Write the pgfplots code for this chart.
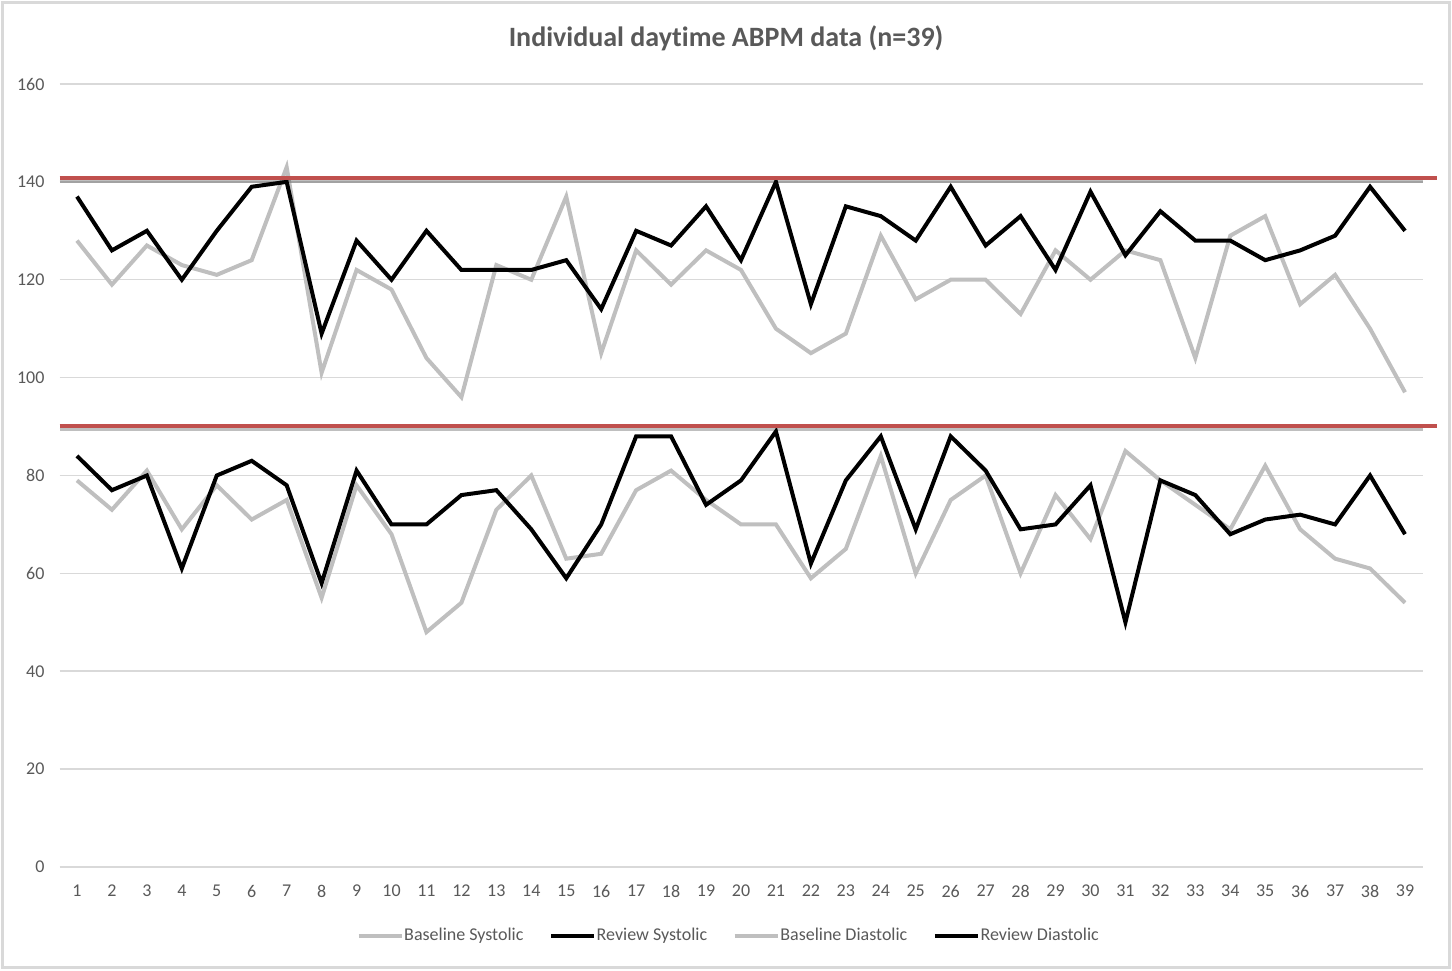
\documentclass[border=0pt]{standalone}
\usepackage{pgfplots}
\pgfplotsset{compat=1.18}
\usepackage{pgfplotstable}
\usepackage{fontspec}
\setmainfont{Carlito}[Ligatures={NoCommon}]
\definecolor{txt}{HTML}{595959}
\definecolor{gridc}{HTML}{D9D9D9}
\definecolor{lgray}{HTML}{BFBFBF}
\definecolor{redl}{HTML}{C0504D}

\pgfplotstableread{
i bs rs bd rd
1 128 137 79 84
2 119 126 73 77
3 127 130 81 80
4 123 120 69 61
5 121 130 78 80
6 124 139 71 83
7 143 140 75 78
8 101 109 55 58
9 122 128 78 81
10 118 120 68 70
11 104 130 48 70
12 96 122 54 76
13 123 122 73 77
14 120 122 80 69
15 137 124 63 59
16 105 114 64 70
17 126 130 77 88
18 119 127 81 88
19 126 135 75 74
20 122 124 70 79
21 110 140 70 89
22 105 115 59 62
23 109 135 65 79
24 129 133 84 88
25 116 128 60 69
26 120 139 75 88
27 120 127 80 81
28 113 133 60 69
29 126 122 76 70
30 120 138 67 78
31 126 125 85 50
32 124 134 79 79
33 104 128 74 76
34 129 128 69 68
35 133 124 82 71
36 115 126 69 72
37 121 129 63 70
38 110 139 61 80
39 97 130 54 68
}\datatable

\begin{document}
\begin{tikzpicture}[x=1pt,y=1pt]
\path (0,0) rectangle (726,485);
\draw[gridc, line width=1.5pt] (1,1.5) rectangle (724.5,483.5);
\node[font=\bfseries\fontsize{14}{16}\selectfont, text=txt] at (363,466) {Individual daytime ABPM data (n=39)};
\begin{axis}[
  at={(29.75pt,51.5pt)}, anchor=south west,
  scale only axis, width=681.5pt, height=391.5pt,
  xmin=0.5, xmax=39.5, ymin=0, ymax=160,
  ytick={0,20,...,160}, xtick={1,...,39},
  ymajorgrids, grid style={gridc, line width=0.75pt},
  axis line style={draw=none},
  major tick length=0,
  tick label style={font=\fontsize{9}{10}\selectfont, text=txt},
  /pgf/number format/assume math mode=true,
  yticklabel style={xshift=-4pt},
  xticklabel style={yshift=-5.5pt},
  clip=false,
  legend columns=4,
  legend style={at={(0.4905,-0.088)}, anchor=center, draw=none, fill=none,
    font=\fontsize{9}{10}\selectfont, text=txt,
    column sep=0pt,
    /tikz/every even column/.append style={column sep=12.5pt},
    nodes={inner xsep=0.3pt, inner ysep=0pt}},
  legend image code/.code={\draw[#1] (0pt,0pt) -- (21.5pt,0pt);},
]
\addplot[lgray, line width=2pt] table[x=i, y=bs] {\datatable};
\addlegendentry{Baseline Systolic}
\addplot[black, line width=2pt] table[x=i, y=rs] {\datatable};
\addlegendentry{Review Systolic}
\addplot[lgray, line width=2pt] table[x=i, y=bd] {\datatable};
\addlegendentry{Baseline Diastolic}
\addplot[black, line width=2pt] table[x=i, y=rd] {\datatable};
\addlegendentry{Review Diastolic}
% reference lines with shadow
\addplot[forget plot, black, opacity=0.25, line width=1.5pt] coordinates {(0.5,140.1) (39.5,140.1)};
\addplot[forget plot, black, opacity=0.25, line width=1.5pt] coordinates {(0.5,89.5) (39.5,89.5)};
\addplot[forget plot, redl, line width=2pt] coordinates {(0.5,140.7) (39.92,140.7)};
\addplot[forget plot, redl, line width=2pt] coordinates {(0.5,90.1) (39.92,90.1)};
\end{axis}
\end{tikzpicture}
\end{document}
